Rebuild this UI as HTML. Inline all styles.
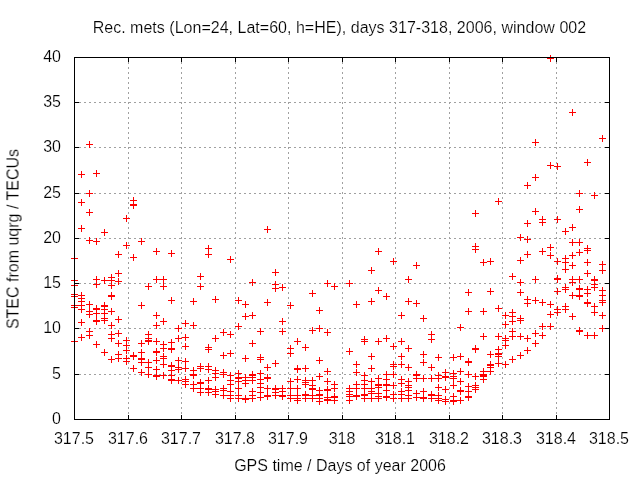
<!DOCTYPE html>
<html><head><meta charset="utf-8"><title>plot</title>
<style>
html,body{margin:0;padding:0;background:#fff;overflow:hidden;}
svg{display:block;}
text{font-family:"Liberation Sans",sans-serif;font-size:16px;fill:#000;stroke:#fff;stroke-width:0.18px;}
</style></head><body>
<svg width="640" height="480" viewBox="0 0 640 480">
<rect width="640" height="480" fill="#fff"/>
<path d="M128.5 414V58M181.5 414V58M235.5 414V58M288.5 414V58M342.5 414V58M395.5 414V58M449.5 414V58M502.5 414V58M556.5 414V58M79 374.5H609M79 328.5H609M79 283.5H609M79 238.5H609M79 193.5H609M79 147.5H609M79 102.5H609" stroke="#a0a0a0" stroke-width="1" stroke-dasharray="2 3" fill="none" shape-rendering="crispEdges"/>
<path d="M71 258.5h7M74.5 255v7M71 280.5h7M74.5 277v7M71 285.5h7M74.5 282v7M71 294.5h7M74.5 291v7M71 296.5h7M74.5 293v7M71 305.5h7M74.5 302v7M71 307.5h7M74.5 304v7M71 341.5h7M74.5 338v7M78 174.5h7M81.5 171v7M78 202.5h7M81.5 199v7M78 228.5h7M81.5 225v7M78 295.5h7M81.5 292v7M78 298.5h7M81.5 295v7M78 301.5h7M81.5 298v7M78 305.5h7M81.5 302v7M78 309.5h7M81.5 306v7M78 322.5h7M81.5 319v7M78 337.5h7M81.5 334v7M86 144.5h7M89.5 141v7M86 193.5h7M89.5 190v7M86 212.5h7M89.5 209v7M86 240.5h7M89.5 237v7M86 304.5h7M89.5 301v7M86 311.5h7M89.5 308v7M86 314.5h7M89.5 311v7M86 331.5h7M89.5 328v7M86 335.5h7M89.5 332v7M93 173.5h7M96.5 170v7M93 241.5h7M96.5 238v7M93 279.5h7M96.5 276v7M93 284.5h7M96.5 281v7M93 308.5h7M96.5 305v7M93 309.5h7M96.5 306v7M93 313.5h7M96.5 310v7M93 320.5h7M96.5 317v7M93 321.5h7M96.5 318v7M93 344.5h7M96.5 341v7M101 232.5h7M104.5 229v7M101 280.5h7M104.5 277v7M101 305.5h7M104.5 302v7M101 306.5h7M104.5 303v7M101 309.5h7M104.5 306v7M101 313.5h7M104.5 310v7M101 318.5h7M104.5 315v7M101 320.5h7M104.5 317v7M101 352.5h7M104.5 349v7M108 277.5h7M111.5 274v7M108 280.5h7M111.5 277v7M108 285.5h7M111.5 282v7M108 295.5h7M111.5 292v7M108 296.5h7M111.5 293v7M108 311.5h7M111.5 308v7M108 325.5h7M111.5 322v7M108 334.5h7M111.5 331v7M108 338.5h7M111.5 335v7M108 359.5h7M111.5 356v7M115 254.5h7M118.5 251v7M115 273.5h7M118.5 270v7M115 281.5h7M118.5 278v7M115 319.5h7M118.5 316v7M115 333.5h7M118.5 330v7M115 343.5h7M118.5 340v7M115 354.5h7M118.5 351v7M115 358.5h7M118.5 355v7M123 218.5h7M126.5 215v7M123 245.5h7M126.5 242v7M123 340.5h7M126.5 337v7M123 345.5h7M126.5 342v7M123 350.5h7M126.5 347v7M123 358.5h7M126.5 355v7M123 361.5h7M126.5 358v7M130 200.5h7M133.5 197v7M130 204.5h7M133.5 201v7M130 205.5h7M133.5 202v7M130 257.5h7M133.5 254v7M130 355.5h7M133.5 352v7M130 356.5h7M133.5 353v7M130 368.5h7M133.5 365v7M138 241.5h7M141.5 238v7M138 305.5h7M141.5 302v7M138 343.5h7M141.5 340v7M138 352.5h7M141.5 349v7M138 358.5h7M141.5 355v7M138 359.5h7M141.5 356v7M138 362.5h7M141.5 359v7M138 372.5h7M141.5 369v7M145 286.5h7M148.5 283v7M145 334.5h7M148.5 331v7M145 338.5h7M148.5 335v7M145 340.5h7M148.5 337v7M145 341.5h7M148.5 338v7M145 362.5h7M148.5 359v7M145 367.5h7M148.5 364v7M145 374.5h7M148.5 371v7M153 251.5h7M156.5 248v7M153 279.5h7M156.5 276v7M153 315.5h7M156.5 312v7M153 325.5h7M156.5 322v7M153 341.5h7M156.5 338v7M153 351.5h7M156.5 348v7M153 352.5h7M156.5 349v7M153 360.5h7M156.5 357v7M153 369.5h7M156.5 366v7M153 375.5h7M156.5 372v7M153 376.5h7M156.5 373v7M160 279.5h7M163.5 276v7M160 286.5h7M163.5 283v7M160 321.5h7M163.5 318v7M160 344.5h7M163.5 341v7M160 348.5h7M163.5 345v7M160 356.5h7M163.5 353v7M160 358.5h7M163.5 355v7M160 364.5h7M163.5 361v7M160 375.5h7M163.5 372v7M168 253.5h7M171.5 250v7M168 300.5h7M171.5 297v7M168 342.5h7M171.5 339v7M168 348.5h7M171.5 345v7M168 349.5h7M171.5 346v7M168 365.5h7M171.5 362v7M168 366.5h7M171.5 363v7M168 370.5h7M171.5 367v7M168 375.5h7M171.5 372v7M168 379.5h7M171.5 376v7M168 380.5h7M171.5 377v7M175 328.5h7M178.5 325v7M175 338.5h7M178.5 335v7M175 360.5h7M178.5 357v7M175 367.5h7M178.5 364v7M175 369.5h7M178.5 366v7M175 380.5h7M178.5 377v7M182 323.5h7M185.5 320v7M182 337.5h7M185.5 334v7M182 346.5h7M185.5 343v7M182 361.5h7M185.5 358v7M182 368.5h7M185.5 365v7M182 379.5h7M185.5 376v7M182 381.5h7M185.5 378v7M182 384.5h7M185.5 381v7M190 301.5h7M193.5 298v7M190 325.5h7M193.5 322v7M190 370.5h7M193.5 367v7M190 374.5h7M193.5 371v7M190 375.5h7M193.5 372v7M190 384.5h7M193.5 381v7M190 388.5h7M193.5 385v7M197 276.5h7M200.5 273v7M197 286.5h7M200.5 283v7M197 366.5h7M200.5 363v7M197 368.5h7M200.5 365v7M197 382.5h7M200.5 379v7M197 383.5h7M200.5 380v7M197 388.5h7M200.5 385v7M197 392.5h7M200.5 389v7M205 248.5h7M208.5 245v7M205 254.5h7M208.5 251v7M205 347.5h7M208.5 344v7M205 349.5h7M208.5 346v7M205 366.5h7M208.5 363v7M205 369.5h7M208.5 366v7M205 380.5h7M208.5 377v7M205 388.5h7M208.5 385v7M205 389.5h7M208.5 386v7M205 392.5h7M208.5 389v7M212 299.5h7M215.5 296v7M212 338.5h7M215.5 335v7M212 370.5h7M215.5 367v7M212 373.5h7M215.5 370v7M212 377.5h7M215.5 374v7M212 389.5h7M215.5 386v7M212 391.5h7M215.5 388v7M212 394.5h7M215.5 391v7M220 332.5h7M223.5 329v7M220 355.5h7M223.5 352v7M220 372.5h7M223.5 369v7M220 374.5h7M223.5 371v7M220 388.5h7M223.5 385v7M220 390.5h7M223.5 387v7M220 395.5h7M223.5 392v7M227 259.5h7M230.5 256v7M227 334.5h7M230.5 331v7M227 353.5h7M230.5 350v7M227 375.5h7M230.5 372v7M227 380.5h7M230.5 377v7M227 384.5h7M230.5 381v7M227 391.5h7M230.5 388v7M227 395.5h7M230.5 392v7M227 398.5h7M230.5 395v7M235 300.5h7M238.5 297v7M235 326.5h7M238.5 323v7M235 373.5h7M238.5 370v7M235 377.5h7M238.5 374v7M235 378.5h7M238.5 375v7M235 381.5h7M238.5 378v7M235 388.5h7M238.5 385v7M235 395.5h7M238.5 392v7M235 398.5h7M238.5 395v7M242 304.5h7M245.5 301v7M242 316.5h7M245.5 313v7M242 358.5h7M245.5 355v7M242 377.5h7M245.5 374v7M242 380.5h7M245.5 377v7M242 383.5h7M245.5 380v7M242 398.5h7M245.5 395v7M242 399.5h7M245.5 396v7M249 282.5h7M252.5 279v7M249 315.5h7M252.5 312v7M249 343.5h7M252.5 340v7M249 374.5h7M252.5 371v7M249 375.5h7M252.5 372v7M249 377.5h7M252.5 374v7M249 380.5h7M252.5 377v7M249 391.5h7M252.5 388v7M249 395.5h7M252.5 392v7M249 398.5h7M252.5 395v7M257 331.5h7M260.5 328v7M257 357.5h7M260.5 354v7M257 359.5h7M260.5 356v7M257 373.5h7M260.5 370v7M257 379.5h7M260.5 376v7M257 383.5h7M260.5 380v7M257 387.5h7M260.5 384v7M257 392.5h7M260.5 389v7M257 397.5h7M260.5 394v7M264 229.5h7M267.5 226v7M264 302.5h7M267.5 299v7M264 367.5h7M267.5 364v7M264 377.5h7M267.5 374v7M264 378.5h7M267.5 375v7M264 388.5h7M267.5 385v7M264 395.5h7M267.5 392v7M264 396.5h7M267.5 393v7M272 272.5h7M275.5 269v7M272 284.5h7M275.5 281v7M272 288.5h7M275.5 285v7M272 363.5h7M275.5 360v7M272 388.5h7M275.5 385v7M272 389.5h7M275.5 386v7M272 392.5h7M275.5 389v7M272 395.5h7M275.5 392v7M279 287.5h7M282.5 284v7M279 321.5h7M282.5 318v7M279 331.5h7M282.5 328v7M279 388.5h7M282.5 385v7M279 391.5h7M282.5 388v7M279 395.5h7M282.5 392v7M279 396.5h7M282.5 393v7M287 305.5h7M290.5 302v7M287 348.5h7M290.5 345v7M287 353.5h7M290.5 350v7M287 381.5h7M290.5 378v7M287 388.5h7M290.5 385v7M287 395.5h7M290.5 392v7M287 398.5h7M290.5 395v7M294 341.5h7M297.5 338v7M294 368.5h7M297.5 365v7M294 369.5h7M297.5 366v7M294 379.5h7M297.5 376v7M294 388.5h7M297.5 385v7M294 395.5h7M297.5 392v7M294 398.5h7M297.5 395v7M294 400.5h7M297.5 397v7M302 347.5h7M305.5 344v7M302 368.5h7M305.5 365v7M302 380.5h7M305.5 377v7M302 382.5h7M305.5 379v7M302 384.5h7M305.5 381v7M302 394.5h7M305.5 391v7M302 395.5h7M305.5 392v7M302 398.5h7M305.5 395v7M309 293.5h7M312.5 290v7M309 330.5h7M312.5 327v7M309 380.5h7M312.5 377v7M309 385.5h7M312.5 382v7M309 388.5h7M312.5 385v7M309 389.5h7M312.5 386v7M309 395.5h7M312.5 392v7M309 398.5h7M312.5 395v7M316 310.5h7M319.5 307v7M316 328.5h7M319.5 325v7M316 360.5h7M319.5 357v7M316 376.5h7M319.5 373v7M316 390.5h7M319.5 387v7M316 394.5h7M319.5 391v7M316 395.5h7M319.5 392v7M316 398.5h7M319.5 395v7M316 401.5h7M319.5 398v7M324 283.5h7M327.5 280v7M324 332.5h7M327.5 329v7M324 371.5h7M327.5 368v7M324 381.5h7M327.5 378v7M324 389.5h7M327.5 386v7M324 390.5h7M327.5 387v7M324 397.5h7M327.5 394v7M324 399.5h7M327.5 396v7M324 400.5h7M327.5 397v7M331 286.5h7M334.5 283v7M331 384.5h7M334.5 381v7M331 388.5h7M334.5 385v7M331 396.5h7M334.5 393v7M331 397.5h7M334.5 394v7M331 400.5h7M334.5 397v7M346 283.5h7M349.5 280v7M346 351.5h7M349.5 348v7M346 388.5h7M349.5 385v7M346 391.5h7M349.5 388v7M346 394.5h7M349.5 391v7M346 396.5h7M349.5 393v7M346 400.5h7M349.5 397v7M353 304.5h7M356.5 301v7M353 364.5h7M356.5 361v7M353 372.5h7M356.5 369v7M353 384.5h7M356.5 381v7M353 388.5h7M356.5 385v7M353 395.5h7M356.5 392v7M353 396.5h7M356.5 393v7M361 339.5h7M364.5 336v7M361 341.5h7M364.5 338v7M361 375.5h7M364.5 372v7M361 380.5h7M364.5 377v7M361 384.5h7M364.5 381v7M361 388.5h7M364.5 385v7M361 394.5h7M364.5 391v7M361 395.5h7M364.5 392v7M361 398.5h7M364.5 395v7M368 270.5h7M371.5 267v7M368 301.5h7M371.5 298v7M368 356.5h7M371.5 353v7M368 368.5h7M371.5 365v7M368 381.5h7M371.5 378v7M368 388.5h7M371.5 385v7M368 391.5h7M371.5 388v7M368 393.5h7M371.5 390v7M368 398.5h7M371.5 395v7M375 251.5h7M378.5 248v7M375 290.5h7M378.5 287v7M375 341.5h7M378.5 338v7M375 378.5h7M378.5 375v7M375 384.5h7M378.5 381v7M375 385.5h7M378.5 382v7M375 387.5h7M378.5 384v7M375 393.5h7M378.5 390v7M375 396.5h7M378.5 393v7M375 398.5h7M378.5 395v7M383 296.5h7M386.5 293v7M383 338.5h7M386.5 335v7M383 374.5h7M386.5 371v7M383 379.5h7M386.5 376v7M383 384.5h7M386.5 381v7M383 385.5h7M386.5 382v7M383 390.5h7M386.5 387v7M383 396.5h7M386.5 393v7M383 397.5h7M386.5 394v7M390 261.5h7M393.5 258v7M390 346.5h7M393.5 343v7M390 364.5h7M393.5 361v7M390 366.5h7M393.5 363v7M390 374.5h7M393.5 371v7M390 385.5h7M393.5 382v7M390 394.5h7M393.5 391v7M390 398.5h7M393.5 395v7M398 315.5h7M401.5 312v7M398 341.5h7M401.5 338v7M398 356.5h7M401.5 353v7M398 364.5h7M401.5 361v7M398 379.5h7M401.5 376v7M398 383.5h7M401.5 380v7M398 391.5h7M401.5 388v7M398 394.5h7M401.5 391v7M398 398.5h7M401.5 395v7M405 279.5h7M408.5 276v7M405 301.5h7M408.5 298v7M405 348.5h7M408.5 345v7M405 367.5h7M408.5 364v7M405 381.5h7M408.5 378v7M405 385.5h7M408.5 382v7M405 387.5h7M408.5 384v7M405 390.5h7M408.5 387v7M405 395.5h7M408.5 392v7M405 398.5h7M408.5 395v7M413 265.5h7M416.5 262v7M413 303.5h7M416.5 300v7M413 374.5h7M416.5 371v7M413 375.5h7M416.5 372v7M413 378.5h7M416.5 375v7M413 393.5h7M416.5 390v7M413 397.5h7M416.5 394v7M420 318.5h7M423.5 315v7M420 354.5h7M423.5 351v7M420 362.5h7M423.5 359v7M420 378.5h7M423.5 375v7M420 391.5h7M423.5 388v7M420 397.5h7M423.5 394v7M420 398.5h7M423.5 395v7M428 334.5h7M431.5 331v7M428 339.5h7M431.5 336v7M428 367.5h7M431.5 364v7M428 378.5h7M431.5 375v7M428 394.5h7M431.5 391v7M428 395.5h7M431.5 392v7M428 398.5h7M431.5 395v7M435 357.5h7M438.5 354v7M435 375.5h7M438.5 372v7M435 378.5h7M438.5 375v7M435 387.5h7M438.5 384v7M435 395.5h7M438.5 392v7M435 398.5h7M438.5 395v7M435 400.5h7M438.5 397v7M442 372.5h7M445.5 369v7M442 376.5h7M445.5 373v7M442 377.5h7M445.5 374v7M442 389.5h7M445.5 386v7M442 399.5h7M445.5 396v7M442 401.5h7M445.5 398v7M450 357.5h7M453.5 354v7M450 373.5h7M453.5 370v7M450 376.5h7M453.5 373v7M450 378.5h7M453.5 375v7M450 385.5h7M453.5 382v7M450 396.5h7M453.5 393v7M450 400.5h7M453.5 397v7M450 401.5h7M453.5 398v7M457 327.5h7M460.5 324v7M457 356.5h7M460.5 353v7M457 371.5h7M460.5 368v7M457 381.5h7M460.5 378v7M457 390.5h7M460.5 387v7M457 391.5h7M460.5 388v7M457 400.5h7M460.5 397v7M465 292.5h7M468.5 289v7M465 311.5h7M468.5 308v7M465 361.5h7M468.5 358v7M465 362.5h7M468.5 359v7M465 374.5h7M468.5 371v7M465 386.5h7M468.5 383v7M465 391.5h7M468.5 388v7M465 396.5h7M468.5 393v7M465 397.5h7M468.5 394v7M472 213.5h7M475.5 210v7M472 246.5h7M475.5 243v7M472 249.5h7M475.5 246v7M472 348.5h7M475.5 345v7M472 349.5h7M475.5 346v7M472 376.5h7M475.5 373v7M472 385.5h7M475.5 382v7M472 387.5h7M475.5 384v7M472 389.5h7M475.5 386v7M480 262.5h7M483.5 259v7M480 311.5h7M483.5 308v7M480 336.5h7M483.5 333v7M480 371.5h7M483.5 368v7M480 374.5h7M483.5 371v7M480 375.5h7M483.5 372v7M480 376.5h7M483.5 373v7M480 379.5h7M483.5 376v7M487 261.5h7M490.5 258v7M487 291.5h7M490.5 288v7M487 354.5h7M490.5 351v7M487 364.5h7M490.5 361v7M487 365.5h7M490.5 362v7M487 367.5h7M490.5 364v7M487 371.5h7M490.5 368v7M495 201.5h7M498.5 198v7M495 308.5h7M498.5 305v7M495 336.5h7M498.5 333v7M495 349.5h7M498.5 346v7M495 353.5h7M498.5 350v7M495 354.5h7M498.5 351v7M495 356.5h7M498.5 353v7M495 363.5h7M498.5 360v7M502 315.5h7M505.5 312v7M502 324.5h7M505.5 321v7M502 338.5h7M505.5 335v7M502 340.5h7M505.5 337v7M502 345.5h7M505.5 342v7M502 364.5h7M505.5 361v7M509 276.5h7M512.5 273v7M509 312.5h7M512.5 309v7M509 316.5h7M512.5 313v7M509 321.5h7M512.5 318v7M509 331.5h7M512.5 328v7M509 336.5h7M512.5 333v7M509 359.5h7M512.5 356v7M517 237.5h7M520.5 234v7M517 260.5h7M520.5 257v7M517 282.5h7M520.5 279v7M517 292.5h7M520.5 289v7M517 318.5h7M520.5 315v7M517 320.5h7M520.5 317v7M517 336.5h7M520.5 333v7M517 355.5h7M520.5 352v7M524 185.5h7M527.5 182v7M524 223.5h7M527.5 220v7M524 239.5h7M527.5 236v7M524 254.5h7M527.5 251v7M524 299.5h7M527.5 296v7M524 303.5h7M527.5 300v7M524 338.5h7M527.5 335v7M524 350.5h7M527.5 347v7M532 142.5h7M535.5 139v7M532 177.5h7M535.5 174v7M532 211.5h7M535.5 208v7M532 279.5h7M535.5 276v7M532 300.5h7M535.5 297v7M532 333.5h7M535.5 330v7M532 343.5h7M535.5 340v7M539 219.5h7M542.5 216v7M539 222.5h7M542.5 219v7M539 251.5h7M542.5 248v7M539 302.5h7M542.5 299v7M539 326.5h7M542.5 323v7M539 335.5h7M542.5 332v7M547 58.5h7M550.5 55v7M547 165.5h7M550.5 162v7M547 247.5h7M550.5 244v7M547 255.5h7M550.5 252v7M547 304.5h7M550.5 301v7M547 314.5h7M550.5 311v7M547 326.5h7M550.5 323v7M554 166.5h7M557.5 163v7M554 219.5h7M557.5 216v7M554 261.5h7M557.5 258v7M554 278.5h7M557.5 275v7M554 279.5h7M557.5 276v7M554 291.5h7M557.5 288v7M554 309.5h7M557.5 306v7M554 312.5h7M557.5 309v7M562 231.5h7M565.5 228v7M562 258.5h7M565.5 255v7M562 262.5h7M565.5 259v7M562 269.5h7M565.5 266v7M562 287.5h7M565.5 284v7M562 289.5h7M565.5 286v7M562 306.5h7M565.5 303v7M562 309.5h7M565.5 306v7M569 112.5h7M572.5 109v7M569 227.5h7M572.5 224v7M569 242.5h7M572.5 239v7M569 255.5h7M572.5 252v7M569 265.5h7M572.5 262v7M569 279.5h7M572.5 276v7M569 282.5h7M572.5 279v7M569 295.5h7M572.5 292v7M569 316.5h7M572.5 313v7M576 193.5h7M579.5 190v7M576 209.5h7M579.5 206v7M576 242.5h7M579.5 239v7M576 252.5h7M579.5 249v7M576 279.5h7M579.5 276v7M576 288.5h7M579.5 285v7M576 289.5h7M579.5 286v7M576 295.5h7M579.5 292v7M576 296.5h7M579.5 293v7M576 330.5h7M579.5 327v7M576 331.5h7M579.5 328v7M584 162.5h7M587.5 159v7M584 248.5h7M587.5 245v7M584 250.5h7M587.5 247v7M584 262.5h7M587.5 259v7M584 273.5h7M587.5 270v7M584 289.5h7M587.5 286v7M584 293.5h7M587.5 290v7M584 302.5h7M587.5 299v7M584 303.5h7M587.5 300v7M584 335.5h7M587.5 332v7M591 195.5h7M594.5 192v7M591 279.5h7M594.5 276v7M591 280.5h7M594.5 277v7M591 284.5h7M594.5 281v7M591 287.5h7M594.5 284v7M591 306.5h7M594.5 303v7M591 312.5h7M594.5 309v7M591 335.5h7M594.5 332v7M599 138.5h7M602.5 135v7M599 264.5h7M602.5 261v7M599 270.5h7M602.5 267v7M599 290.5h7M602.5 287v7M599 295.5h7M602.5 292v7M599 300.5h7M602.5 297v7M599 302.5h7M602.5 299v7M599 315.5h7M602.5 312v7M599 328.5h7M602.5 325v7" stroke="#f00" stroke-width="1" fill="none" shape-rendering="crispEdges"/>
<path d="M128.5 419v-4M128.5 58v4M181.5 419v-4M181.5 58v4M235.5 419v-4M235.5 58v4M288.5 419v-4M288.5 58v4M342.5 419v-4M342.5 58v4M395.5 419v-4M395.5 58v4M449.5 419v-4M449.5 58v4M502.5 419v-4M502.5 58v4M556.5 419v-4M556.5 58v4M75 374.5h4M609 374.5h-4M75 328.5h4M609 328.5h-4M75 283.5h4M609 283.5h-4M75 238.5h4M609 238.5h-4M75 193.5h4M609 193.5h-4M75 147.5h4M609 147.5h-4M75 102.5h4M609 102.5h-4" stroke="#000" stroke-width="1" fill="none" shape-rendering="crispEdges"/>
<rect x="74.5" y="57.5" width="535" height="362" fill="none" stroke="#000" stroke-width="1" shape-rendering="crispEdges"/>
<g opacity="0.999">
<text x="74" y="444" text-anchor="middle">317.5</text>
<text x="128" y="444" text-anchor="middle">317.6</text>
<text x="181" y="444" text-anchor="middle">317.7</text>
<text x="235" y="444" text-anchor="middle">317.8</text>
<text x="288" y="444" text-anchor="middle">317.9</text>
<text x="342" y="444" text-anchor="middle">318</text>
<text x="395" y="444" text-anchor="middle">318.1</text>
<text x="449" y="444" text-anchor="middle">318.2</text>
<text x="502" y="444" text-anchor="middle">318.3</text>
<text x="556" y="444" text-anchor="middle">318.4</text>
<text x="609" y="444" text-anchor="middle">318.5</text>
<text x="61" y="424" text-anchor="end">0</text>
<text x="61" y="379" text-anchor="end">5</text>
<text x="61" y="333" text-anchor="end">10</text>
<text x="61" y="288" text-anchor="end">15</text>
<text x="61" y="243" text-anchor="end">20</text>
<text x="61" y="198" text-anchor="end">25</text>
<text x="61" y="152" text-anchor="end">30</text>
<text x="61" y="107" text-anchor="end">35</text>
<text x="61" y="62" text-anchor="end">40</text>
<text x="339.4" y="33" text-anchor="middle" textLength="493.5">Rec. mets (Lon=24, Lat=60, h=HE), days 317-318, 2006, window 002</text>
<text x="340" y="470.5" text-anchor="middle">GPS time / Days of year 2006</text>
<text transform="translate(18.5 239) rotate(-90)" text-anchor="middle">STEC from uqrg / TECUs</text>
</g>
</svg>
</body></html>
